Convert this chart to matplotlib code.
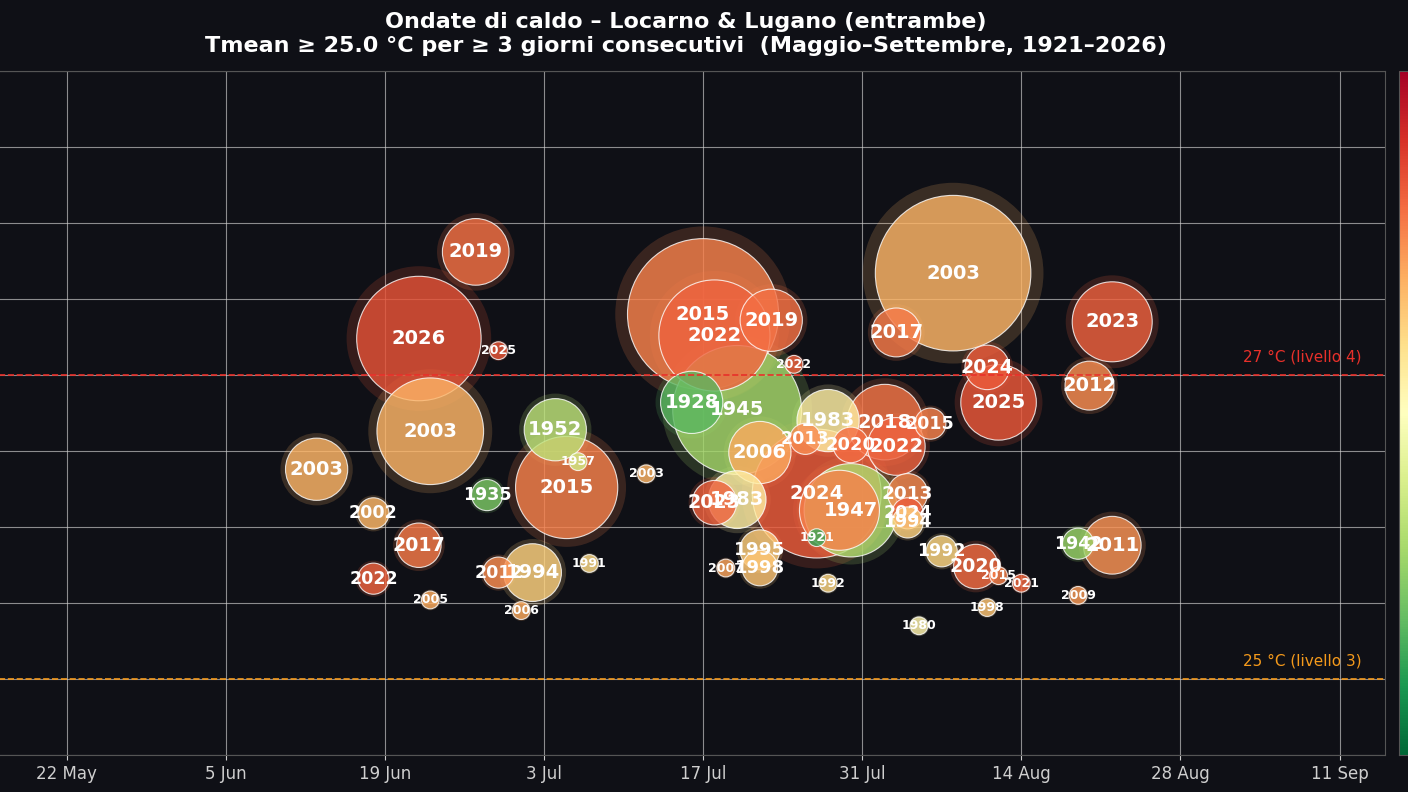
import numpy as np
import pandas as pd
import matplotlib
matplotlib.use("Agg")
import matplotlib.pyplot as plt
import matplotlib.dates as mdates
from matplotlib.colors import Normalize
from matplotlib.colorbar import ColorbarBase

# ondate di caldo: anno, data centrale (mese-giorno), Tmean media (°C), durata (giorni)
anni = [2019, 2026, 2025, 2003, 2003, 1952, 1957, 2015, 2003, 1935,
        2002, 2017, 2022, 2005, 2012, 1994, 1991, 2006, 2015, 2022,
        2019, 2022, 1928, 1945, 1983, 2018, 2015, 2013, 2020, 2022,
        2006, 2024, 2025, 2017, 2003, 2013, 2024, 1994, 2024, 1947,
        2015, 2023, 1983, 1995, 1998, 2007, 1921, 1992, 1992, 2020,
        2015, 2021, 1998, 1980, 2023, 2012, 1942, 2011, 2009]
date = ["06-27", "06-22", "06-29", "06-23", "06-13", "07-04", "07-06", "07-05", "07-12", "06-28",
        "06-18", "06-22", "06-18", "06-23", "06-29", "07-02", "07-07", "07-01", "07-17", "07-18",
        "07-23", "07-25", "07-16", "07-20", "07-28", "08-02", "08-06", "07-26", "07-30", "08-03",
        "07-22", "08-11", "08-12", "08-03", "08-08", "08-04", "08-04", "08-04", "07-27", "07-30",
        "07-29", "07-18", "07-20", "07-22", "07-22", "07-19", "07-27", "07-28", "08-07", "08-10",
        "08-12", "08-14", "08-11", "08-05", "08-22", "08-20", "08-19", "08-22", "08-19"]
tmean = [27.81, 27.24, 27.16, 26.63, 26.38, 26.64, 26.43, 26.26, 26.35, 26.21,
         26.09, 25.88, 25.66, 25.52, 25.70, 25.70, 25.76, 25.45, 27.40, 27.26,
         27.36, 27.07, 26.82, 26.77, 26.70, 26.69, 26.68, 26.58, 26.54, 26.53,
         26.49, 27.05, 26.82, 27.28, 27.67, 26.22, 26.09, 26.03, 26.22, 26.11,
         26.11, 26.16, 26.18, 25.85, 25.73, 25.73, 25.93, 25.63, 25.84, 25.74,
         25.68, 25.63, 25.47, 25.35, 27.35, 26.93, 25.89, 25.88, 25.55]
durata = [14, 27, 3, 23, 13, 13, 3, 22, 3, 6,
          6, 9, 6, 3, 6, 12, 3, 3, 33, 24,
          13, 3, 13, 28, 13, 16, 6, 6, 7, 12,
          13, 9, 16, 10, 34, 8, 6, 6, 28, 20,
          17, 9, 12, 8, 7, 3, 3, 3, 6, 9,
          3, 3, 3, 3, 17, 10, 6, 12, 3]
senza_etichetta = {40}

tick_date = ["05-22", "06-05", "06-19", "07-03", "07-17", "07-31", "08-14", "08-28", "09-11"]
tick_lab = ["22 May", "5 Jun", "19 Jun", "3 Jul", "17 Jul", "31 Jul", "14 Aug", "28 Aug", "11 Sep"]

soglia4 = 27.0
soglia3 = 25.0

BG = "#0f1016"
cmap = plt.get_cmap("RdYlGn_r")
norm = Normalize(vmin=1900, vmax=2050)

x = mdates.date2num(pd.to_datetime(["2001-" + d for d in date]))
y = np.array(tmean)
dur = np.array(durata)
col = cmap(norm(np.array(anni)))
s = (3.2 * (dur + 1)) ** 2

fig = plt.figure(figsize=(14.08, 7.92), dpi=100, facecolor=BG)
ax = fig.add_axes([-13 / 1408, 37 / 792, 1398 / 1408, 684 / 792])
ax.set_facecolor(BG)

order = np.argsort(-dur, kind="stable")
ax.scatter(x[order], y[order], s=s[order] * 1.35, c=col[order], alpha=0.18, linewidths=0, zorder=2)
ax.scatter(x[order], y[order], s=s[order], c=col[order], alpha=0.8,
           edgecolors="white", linewidths=0.8, zorder=3)

for i in order:
    if i in senza_etichetta:
        continue
    fs = 9 if dur[i] <= 4 else min(14, 10.5 + 0.35 * dur[i])
    ax.text(x[i], y[i], str(anni[i]), ha="center", va="center", color="white",
            fontsize=fs, fontweight="bold", zorder=5)

ax.axhline(soglia4, color="#e8302a", ls="--", lw=1.2, zorder=4)
ax.axhline(soglia3, color="#f59a1b", ls="--", lw=1.2, zorder=4)
ax.text(0.9835, soglia4 + 0.07, "27 °C (livello 4)", transform=ax.get_yaxis_transform(),
        ha="right", va="bottom", color="#e8302a", fontsize=11)
ax.text(0.9835, soglia3 + 0.07, "25 °C (livello 3)", transform=ax.get_yaxis_transform(),
        ha="right", va="bottom", color="#f59a1b", fontsize=11)

ax.set_xlim(mdates.date2num(pd.Timestamp("2001-05-15")), mdates.date2num(pd.Timestamp("2001-09-15")))
ax.set_ylim(24.5, 29.0)
ax.set_xticks(mdates.date2num(pd.to_datetime(["2001-" + d for d in tick_date])))
ax.set_xticklabels(tick_lab)
ax.set_yticks(np.arange(24.5, 29.01, 0.5))
ax.tick_params(colors="#cfcfcf", labelsize=12)
ax.grid(True, color="#d0d0d0", alpha=0.65, lw=0.8, zorder=0)
ax.set_axisbelow(True)
for sp in ax.spines.values():
    sp.set_color("#555555")

ax.set_title("Ondate di caldo – Locarno & Lugano (entrambe)\n"
             "Tmean ≥ 25.0 °C per ≥ 3 giorni consecutivi  (Maggio–Settembre, 1921–2026)",
             color="white", fontsize=16, fontweight="bold", pad=14)

cax = fig.add_axes([1399 / 1408, 37 / 792, 0.03, 684 / 792])
cb = ColorbarBase(cax, cmap=cmap, norm=norm)
cb.outline.set_edgecolor("#555555")

fig.savefig("out.png", dpi=100, facecolor=BG)
